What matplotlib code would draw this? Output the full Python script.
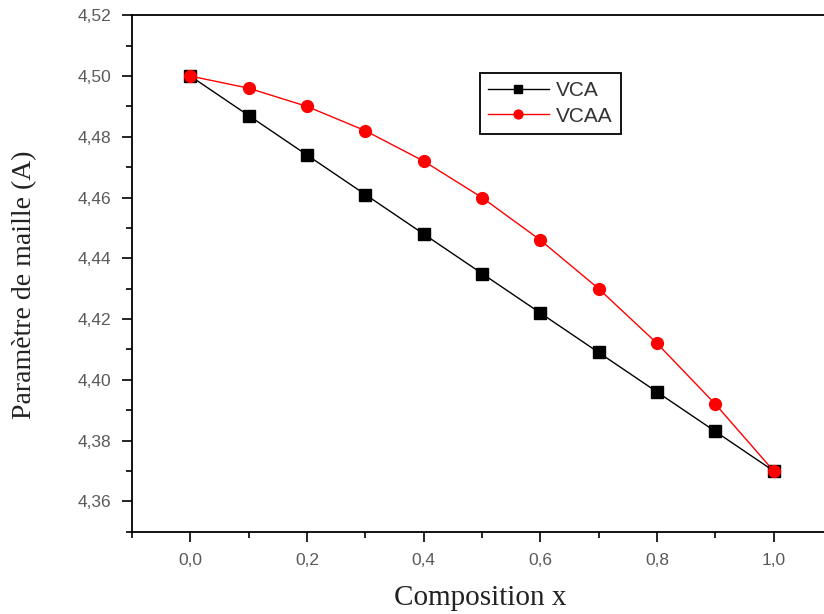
import numpy as np
import matplotlib.pyplot as plt
from matplotlib.ticker import MultipleLocator, FuncFormatter

# Données
x = [0.0, 0.1, 0.2, 0.3, 0.4, 0.5, 0.6, 0.7, 0.8, 0.9, 1.0]
vca = [4.500, 4.487, 4.474, 4.461, 4.448, 4.435, 4.422, 4.409, 4.396, 4.383, 4.370]
vcaa = [4.500, 4.496, 4.490, 4.482, 4.472, 4.460, 4.446, 4.430, 4.412, 4.392, 4.370]

fig = plt.figure(figsize=(8.24, 6.14), dpi=100)
# l'axe dépasse à droite de l'image (image rognée)
ax = fig.add_axes([132 / 824, 1 - 531.7 / 614, 700 / 824, 516.4 / 614])

ax.plot(x, vca, color='black', lw=1, marker='s', ms=8.5, label='VCA')
ax.plot(x, vcaa, color='red', lw=1, marker='o', ms=8.5, label='VCAA')

ax.set_xlim(-0.1, 1.1)
ax.set_ylim(4.35, 4.52)

ax.xaxis.set_major_locator(MultipleLocator(0.2))
ax.xaxis.set_minor_locator(MultipleLocator(0.1))
ax.yaxis.set_major_locator(MultipleLocator(0.02))
ax.yaxis.set_minor_locator(MultipleLocator(0.01))
ax.xaxis.set_major_formatter(FuncFormatter(lambda v, p: f"{v:.1f}".replace('.', ',')))
ax.yaxis.set_major_formatter(FuncFormatter(lambda v, p: f"{v:.2f}".replace('.', ',')))

ax.tick_params(which='both', direction='out', width=1.2, colors='black',
               labelcolor='#5a5a5a', labelsize=12.5)
ax.tick_params(which='major', length=7, pad=8)
ax.tick_params(which='minor', length=4)
for lab in ax.get_xticklabels() + ax.get_yticklabels():
    lab.set_family('Liberation Sans')
for s in ax.spines.values():
    s.set_linewidth(1.3)
ax.spines['right'].set_visible(False)

ax.set_xlabel('Composition x', family='Liberation Serif', fontsize=21, color='#222222')
ax.set_ylabel('Paramètre de maille (A)', family='Liberation Serif', fontsize=20,
              color='#222222')
ax.xaxis.set_label_coords(0.497, -0.128)
ax.yaxis.set_label_coords(-0.153, 0.478)
ax.xaxis.label.set_va('center')
ax.yaxis.label.set_va('center')

leg = ax.legend(loc='upper left', bbox_to_anchor=(0.497, 0.888), borderaxespad=0,
                fancybox=False, edgecolor='black', framealpha=1,
                prop={'family': 'Liberation Sans', 'size': 15}, markerscale=0.75,
                handlelength=2.9, handletextpad=0.35, borderpad=0.4, labelspacing=0.3)
leg.get_frame().set_linewidth(1.3)
for t in leg.get_texts():
    t.set_color('#333333')

fig.savefig('out.png', dpi=100)
